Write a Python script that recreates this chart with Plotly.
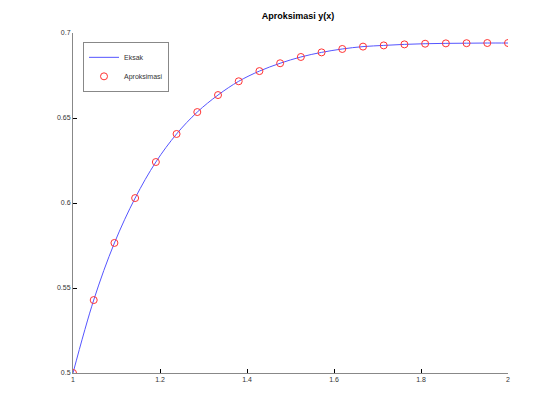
import plotly.graph_objects as go

# data
x_vals = [1 + i / 21 for i in range(22)]
y_eksak = [0.5, 0.5429, 0.5765, 0.6029, 0.6241, 0.6406, 0.6535, 0.6635,
           0.6716, 0.6776, 0.6822, 0.6859, 0.6886, 0.6906, 0.6920, 0.6927,
           0.6933, 0.6937, 0.6939, 0.6940, 0.6941, 0.6941]
y_aprok = [0.5, 0.5429, 0.5765, 0.6029, 0.6241, 0.6406, 0.6535, 0.6635,
           0.6716, 0.6776, 0.6822, 0.6859, 0.6886, 0.6906, 0.6920, 0.6927,
           0.6933, 0.6937, 0.6939, 0.6940, 0.6941, 0.6941]
x_ticks = [1, 1.2, 1.4, 1.6, 1.8, 2]
y_ticks = [0.5, 0.55, 0.6, 0.65, 0.7]

fig = go.Figure()
fig.add_trace(go.Scatter(x=x_vals, y=y_eksak, mode="lines", name="Eksak",
                         line=dict(color="#5555ff", width=1, shape="spline")))
fig.add_trace(go.Scatter(x=x_vals, y=y_aprok, mode="markers", name="Aproksimasi",
                         marker=dict(symbol="circle-open", color="#ff3333", size=7,
                                     line=dict(width=1, color="#ff3333"))))

fig.update_layout(
    width=560, height=420,
    margin=dict(l=65, r=60, t=25, b=55),
    paper_bgcolor="white", plot_bgcolor="white",
    font=dict(family="Liberation Sans, Arial, sans-serif", size=7, color="#333"),
    title=dict(text="<b>Aproksimasi y(x)</b>", x=0.518, xanchor="center",
               y=0.981, yanchor="middle", font=dict(size=9, color="#000")),
    showlegend=True,
    legend=dict(x=0.023, y=0.974, xanchor="left", yanchor="top",
                bordercolor="#888", borderwidth=1, bgcolor="white",
                font=dict(size=7), itemwidth=30, tracegroupgap=0),
)
fig.update_xaxes(range=[1, 2], tickvals=x_ticks, ticktext=[str(v) for v in x_ticks],
                 showgrid=False, zeroline=False, showline=True, linecolor="#888",
                 linewidth=1, ticks="inside", ticklen=4, tickcolor="#000")
fig.update_yaxes(range=[0.5, 0.7], tickvals=y_ticks, ticktext=[str(v) for v in y_ticks],
                 showgrid=False, zeroline=False, showline=True, linecolor="#888",
                 linewidth=1, ticks="inside", ticklen=4, tickcolor="#000")

fig.write_html("out.html")
